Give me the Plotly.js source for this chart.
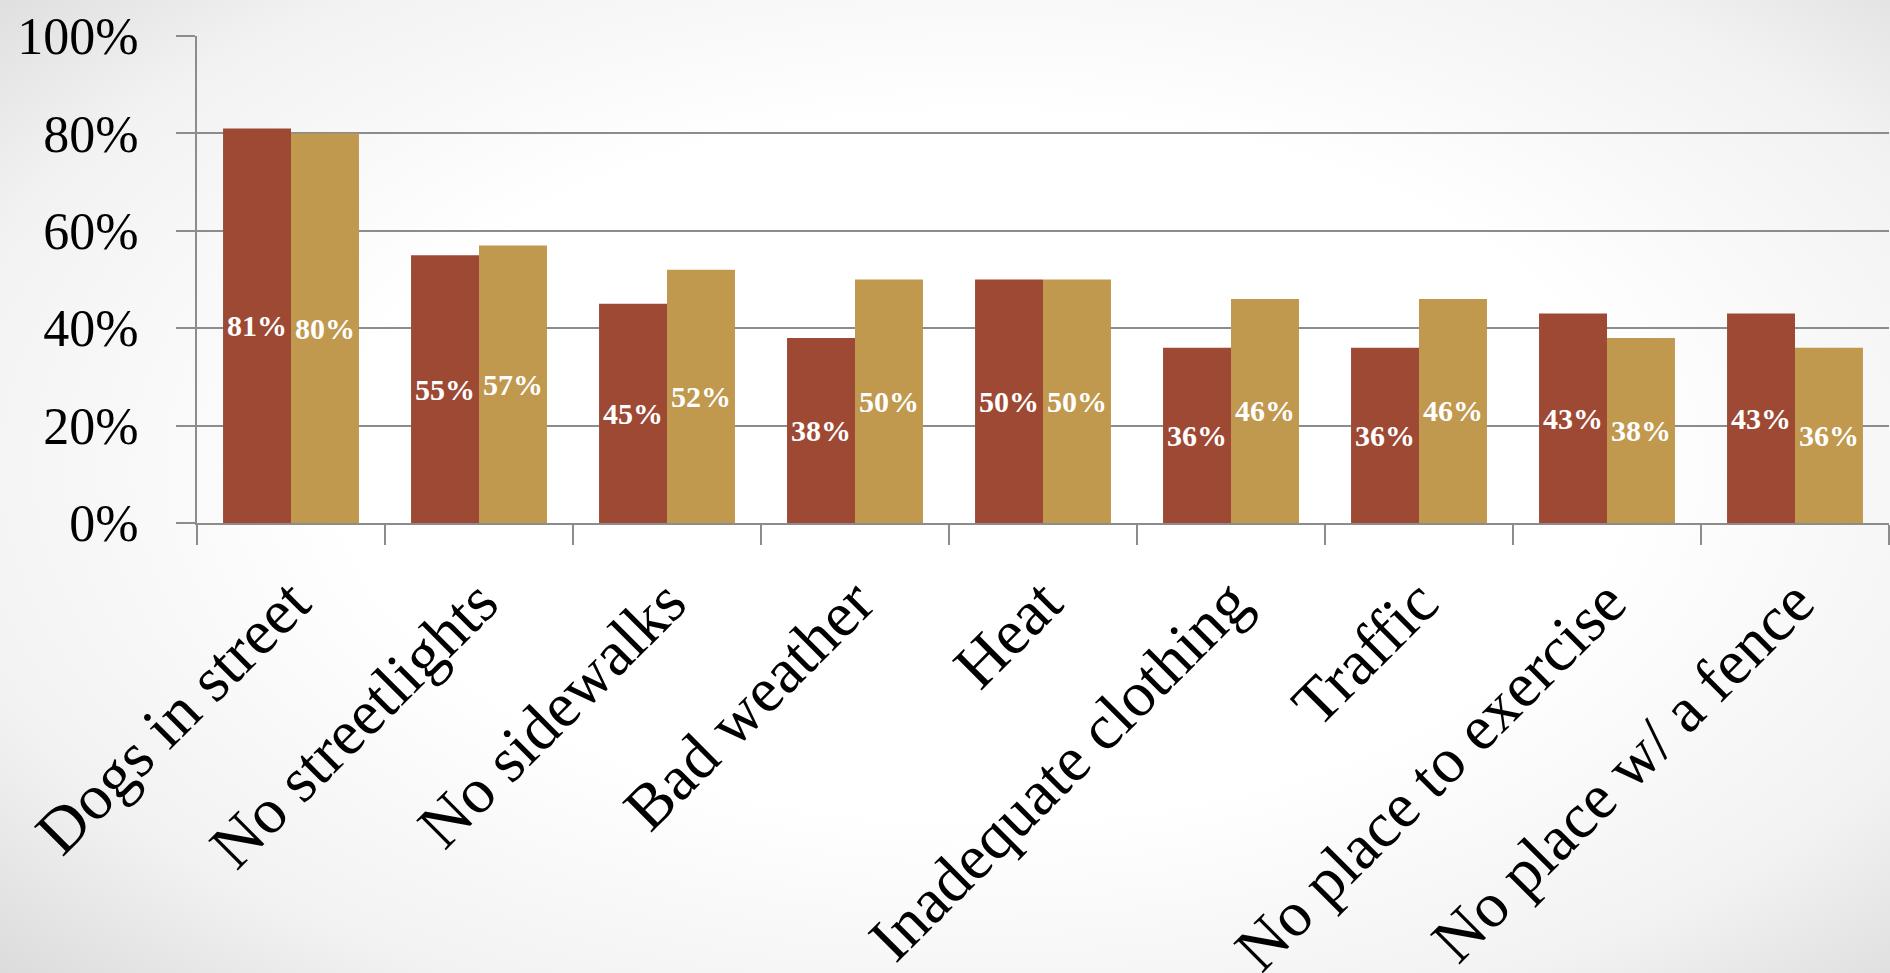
<!DOCTYPE html>
<html>
<head>
<meta charset="utf-8">
<script src="https://cdn.plot.ly/plotly-3.0.1.min.js"></script>
<style>
  html, body { margin: 0; padding: 0; }
  body {
    width: 1890px; height: 973px; overflow: hidden;
    background: radial-gradient(ellipse 75% 80% at 52% 48%, #ffffff 45%, #f2f2f2 75%, #d6d6d6 100%);
  }
  #chart { width: 1890px; height: 973px; }
</style>
</head>
<body>
<div id="chart"></div>
<script>
// Barriers to physical activity: share of respondents per group
const categories = [
  "Dogs in street", "No streetlights", "No sidewalks", "Bad weather", "Heat",
  "Inadequate clothing", "Traffic", "No place to exercise", "No place w/ a fence"
];
const groupA = [81, 55, 45, 38, 50, 36, 36, 43, 43];
const groupB = [80, 57, 52, 50, 50, 46, 46, 38, 36];
const yTicks = [0, 20, 40, 60, 80, 100];

const colorA = "#9d4934";
const colorB = "#c0984e";
const labelFont = { family: "Liberation Serif, serif", size: 30, color: "#ffffff", weight: "bold" };

function barTrace(values, color) {
  return {
    type: "bar",
    x: categories,
    y: values,
    text: values.map(v => v + "%"),
    textposition: "inside",
    insidetextanchor: "middle",
    textangle: 0,
    constraintext: "none",
    textfont: labelFont,
    marker: { color: color, line: { width: 0 } },
    hoverinfo: "x+y"
  };
}

const data = [barTrace(groupA, colorA), barTrace(groupB, colorB)];

const layout = {
  width: 1890,
  height: 973,
  margin: { l: 197, r: 1, t: 36, b: 450, pad: 0 },
  paper_bgcolor: "rgba(0,0,0,0)",
  plot_bgcolor: "rgba(0,0,0,0)",
  barmode: "group",
  bargap: 0.277,
  bargroupgap: 0,
  showlegend: false,
  xaxis: {
    type: "category",
    tickson: "boundaries",
    ticks: "outside",
    ticklen: 20,
    tickwidth: 2,
    tickcolor: "#8c8c8c",
    showline: true,
    linecolor: "#8c8c8c",
    linewidth: 2,
    showgrid: false,
    tickangle: -45,
    ticklabelstandoff: 14,
    tickfont: { family: "Liberation Serif, serif", size: 64, color: "#000000" }
  },
  yaxis: {
    range: [0, 100],
    tickvals: yTicks,
    ticktext: yTicks.map(v => v + "%"),
    ticks: "outside",
    ticklen: 19,
    tickwidth: 2,
    tickcolor: "#8c8c8c",
    showline: true,
    linecolor: "#8c8c8c",
    linewidth: 2,
    showgrid: true,
    gridcolor: "#8c8c8c",
    gridwidth: 2,
    zeroline: false,
    ticklabelstandoff: 27,
    tickfont: { family: "Liberation Serif, serif", size: 52, color: "#000000" }
  }
};

Plotly.newPlot("chart", data, layout, { staticPlot: true, displayModeBar: false });
</script>
</body>
</html>
